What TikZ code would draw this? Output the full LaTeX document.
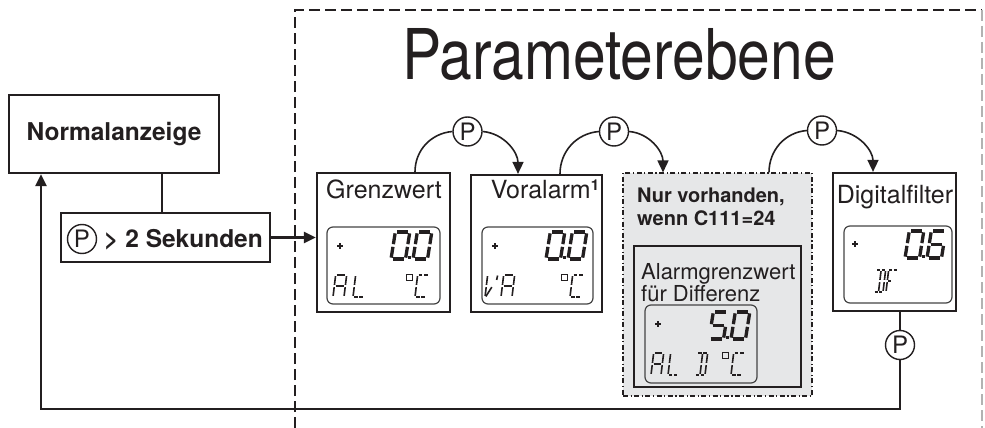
\documentclass[tikz,border=0pt]{standalone}
\usepackage{fontspec}
\setmainfont{TeX Gyre Heros}
\usetikzlibrary{arrows.meta}
\definecolor{ink}{HTML}{231F20}
\definecolor{panel}{HTML}{E6E7E8}
\definecolor{lcdline}{HTML}{444444}
\newcommand\defseg[2]{\expandafter\def\csname SG#1\endcsname{\draw[segl] #2;}}
\defseg{a}{(0.12,2)--(0.88,2)}
\defseg{b}{(1,1.1)--(1,1.9)}
\defseg{c}{(1,0.1)--(1,0.9)}
\defseg{d}{(0.12,0)--(0.88,0)}
\defseg{e}{(0,0.1)--(0,0.9)}
\defseg{f}{(0,1.1)--(0,1.9)}
\defseg{g}{(0.12,1)--(0.88,1)}
\defseg{a1}{(0.08,2)--(0.42,2)}
\defseg{a2}{(0.58,2)--(0.92,2)}
\defseg{d1}{(0.08,0)--(0.42,0)}
\defseg{d2}{(0.58,0)--(0.92,0)}
\defseg{g1}{(0.08,1)--(0.42,1)}
\defseg{g2}{(0.58,1)--(0.92,1)}
\defseg{i}{(0.5,1.1)--(0.5,1.9)}
\defseg{l}{(0.5,0.1)--(0.5,0.9)}
\defseg{v}{(0.1,0.05)--(0.7,0.9)}
\defseg{ap}{(0.5,1.95)--(0.45,1.55)}
\newcommand\segs[1]{\foreach \s in {#1}{\csname SG\s\endcsname}}
\newcommand\bigdig[3]{\begin{scope}[shift={(#1,#2)},xslant=0.16,xscale=14.5,yscale=-13.5,segl/.style={draw=ink,line width=3.3pt,line cap=butt}]\segs{#3}\end{scope}}
\newcommand\smallchr[4][10]{\begin{scope}[shift={(#2,#3)},xslant=0.12,xscale=#1,yscale=-11,segl/.style={draw=ink,line width=1.6pt,line cap=butt}]\segs{#4}\end{scope}}
\newcommand\lcddot[2]{\fill[ink] (#1-1.6,#2-1.6) rectangle (#1+1.6,#2+1.6);}
\newcommand\lcdplus[2]{\draw[ink,line width=1.5pt] (#1-2.8,#2) -- (#1+2.8,#2) (#1,#2-2.8) -- (#1,#2+2.8);}
\newcommand\lcddeg[2]{\draw[ink,line width=1pt] (#1,#2) rectangle (#1+6,#2+6);}
\begin{document}
\begin{tikzpicture}[x=1pt,y=-1pt,
  bigbox/.style={draw=ink,line width=2.2pt,inner sep=0pt},
  thinbox/.style={draw=ink,line width=1.1pt,inner sep=0pt},
  graybox/.style={draw=ink,fill=panel,line width=1.1pt,inner sep=0pt,
    dash pattern=on 5pt off 2.5pt on 1.2pt off 2.5pt},
  lcd/.style={draw=lcdline,line width=1.2pt,rounded corners=6pt,inner sep=0pt},
  pcirc/.style={circle,draw=ink,line width=1.4pt,minimum size=29pt,inner sep=0pt,
    text=ink,font=\fontsize{24}{24}\selectfont},
  ttl/.style={text=ink,inner sep=0pt,font=\fontsize{25}{28}\selectfont},
  btxt/.style={text=ink,inner sep=0pt,font=\fontsize{24.5}{28}\selectfont\bfseries},
  conn/.style={draw=ink,line width=2.3pt},
  curve/.style={draw=ink,line width=1.6pt},
  arr/.style={-{Triangle[length=12pt,width=11pt]}}
]
\useasboundingbox (0,0) rectangle (985,428);
\fill[white] (0,0) rectangle (985,428);

% parameter level frame
\draw[ink,line width=1.3pt,dash pattern=on 11pt off 5pt] (295,428) -- (295,10) -- (982,10);
\draw[gray!60,line width=1.3pt,dash pattern=on 11pt off 5pt] (982,10) -- (982,428);
\node[text=ink,inner sep=0pt,anchor=base,font=\fontsize{70}{70}\selectfont] (title) at (619,80) {\scalebox{0.84}[1]{Parameterebene}};

% normal display
\node[bigbox,minimum width=210pt,minimum height=78pt,btxt] (norm) at (114,134) {Normalanzeige};
\node[thinbox,minimum width=209pt,minimum height=49pt] (sek) at (165.5,237.5) {};
\node[pcirc] (psek) at (82,239) {P};
\node[btxt,anchor=base west] (sektxt) at (104,247) {> 2 Sekunden};

% parameter boxes
\node[bigbox,minimum width=133pt,minimum height=139pt] (grenz) at (383.5,242.5) {};
\node[ttl,anchor=base] (grenzT) at (384,198) {Grenzwert};
\node[lcd,minimum width=113pt,minimum height=77pt] (lcd1) at (383.5,265.5) {};

\node[bigbox,minimum width=131pt,minimum height=137pt] (vor) at (536.5,243.5) {};
\node[ttl,anchor=base] (vorT) at (545,198) {Voralarm\raisebox{8pt}{\fontsize{15}{15}\selectfont\bfseries 1}};
\node[lcd,minimum width=111pt,minimum height=77pt] (lcd2) at (537.5,265.5) {};

\node[graybox,minimum width=189pt,minimum height=223pt] (opt) at (717.5,284.5) {};
\node[text=ink,inner sep=0pt,anchor=base west,font=\fontsize{20}{22}\selectfont\bfseries] (optA) at (637,202) {Nur vorhanden,};
\node[text=ink,inner sep=0pt,anchor=base west,font=\fontsize{20}{22}\selectfont\bfseries] (optB) at (637,225) {wenn C111=24};
\node[bigbox,minimum width=167pt,minimum height=141pt] (alarm) at (717.5,316.5) {};
\node[text=ink,inner sep=0pt,anchor=base west,font=\fontsize{22}{24}\selectfont] (alarmA) at (641,279) {Alarmgrenzwert};
\node[text=ink,inner sep=0pt,anchor=base west,font=\fontsize{22}{24}\selectfont] (alarmB) at (641,301) {für Differenz};
\node[lcd,minimum width=112pt,minimum height=78pt] (lcd3) at (701,344) {};

\node[bigbox,minimum width=123pt,minimum height=138pt] (digi) at (894.5,242) {};
\node[ttl,anchor=base] (digiT) at (895,203) {Digitalfilter};
\node[lcd,minimum width=108pt,minimum height=77pt] (lcd4) at (898,264.5) {};

% LCD 1
\lcdplus{340}{246}
\bigdig{391}{259}{a,b,c,d,e,f}
\lcddot{409.5}{257.5}
\bigdig{413}{259}{a,b,c,d,e,f}
\smallchr[11]{333}{297}{a,b,c,e,f,g}
\smallchr[11]{353}{297}{f,e,d1,d2}
\lcddeg{406}{274}
\smallchr[11]{415}{297}{a1,a2,f,e,d1,d2}
% LCD 2
\lcdplus{495}{246}
\bigdig{546}{259}{a,b,c,d,e,f}
\lcddot{564.5}{257.5}
\bigdig{568}{259}{a,b,c,d,e,f}
\smallchr[8]{485}{297}{f,e,v}
\smallchr[8]{491}{297}{ap}
\smallchr[11]{501}{297}{a,b,c,e,f,g}
\lcddeg{561}{274}
\smallchr[11]{570}{297}{a1,a2,f,e,d1,d2}
% LCD 3
\lcdplus{658}{324}
\bigdig{709}{339}{a,f,g,c,d}
\lcddot{727.5}{337.5}
\bigdig{731}{339}{a,b,c,d,e,f}
\smallchr{651}{375}{a,b,c,e,f,g}
\smallchr{668}{375}{f,e,d1,d2}
\smallchr{695}{375}{a1,a2,b,c,d1,d2,i,l}
\lcddeg{722}{352}
\smallchr[11]{731}{375}{a1,a2,f,e,d1,d2}
% LCD 4
\lcdplus{855}{244}
\bigdig{905}{258}{a,b,c,d,e,f}
\lcddot{923.5}{256.5}
\bigdig{927}{258}{a,f,g,e,d,c}
\smallchr[9]{874}{292}{a1,a2,b,c,d1,d2,i,l}
\smallchr[9]{886}{292}{a1,a2,f,e,g1}

% P circles
\node[pcirc] (p1) at (467.5,131.5) {P};
\node[pcirc] (p2) at (614,131.5) {P};
\node[pcirc] (p3) at (822,130.5) {P};
\node[pcirc] (p4) at (900,345) {P};

% connectors
\draw[conn] ([xshift=-3.5pt]sek.north |- norm.south) -- ([xshift=-3.5pt]sek.north);
\draw[conn,arr] (sek.east) -- (sek.east -| grenz.west);
\draw[curve] ([xshift=31.5pt]grenz.north) to[out=90,in=185] (p1.west);
\draw[curve,arr] (p1.east) to[out=-5,in=90] ([xshift=-18.5pt]vor.north);
\draw[curve] ([xshift=23.5pt]vor.north) to[out=90,in=185] (p2.west);
\draw[curve,arr] (p2.east) to[out=-5,in=90] ([xshift=-54.5pt]opt.north);
\draw[curve] ([xshift=51.5pt]opt.north) to[out=90,in=185] (p3.west);
\draw[curve,arr] (p3.east) to[out=-5,in=90] ([xshift=-21.5pt]digi.north);
\draw[conn] ([xshift=5.5pt]digi.south) -- (p4.north);
\coordinate (lowL) at (41,409);
\draw[conn,arr] (p4.south) |- (lowL) -- (lowL |- norm.south);
\end{tikzpicture}
\end{document}
